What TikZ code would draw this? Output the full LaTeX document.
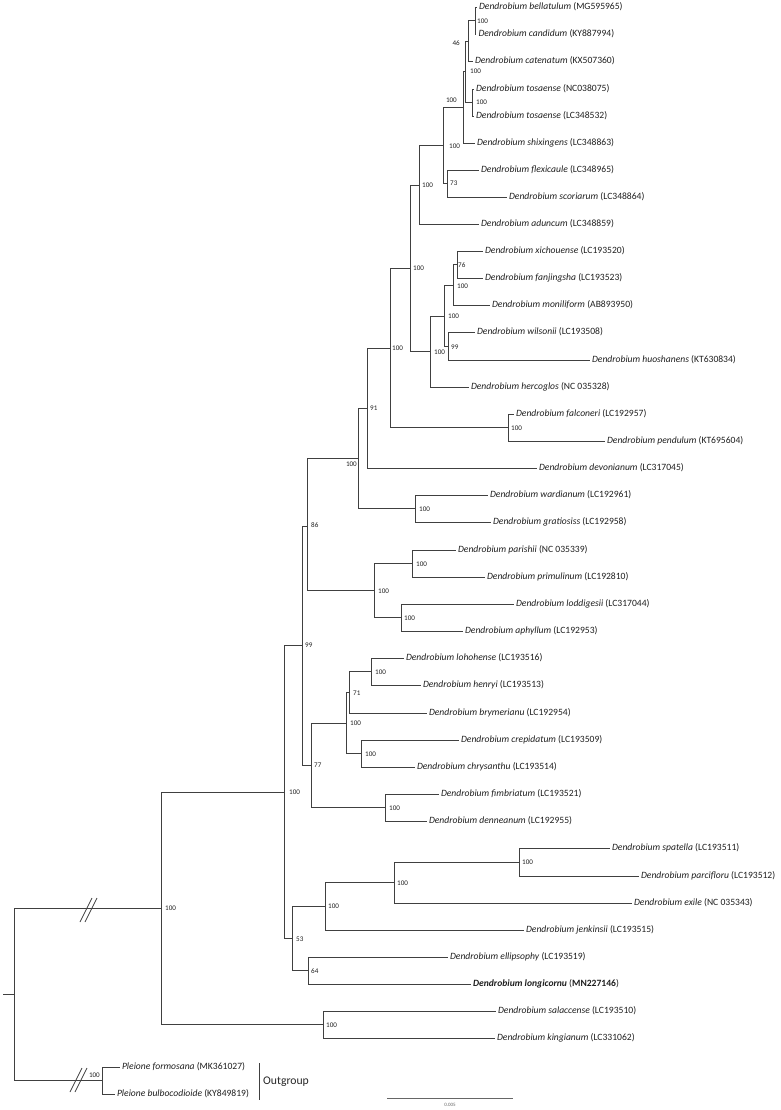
\documentclass[tikz,border=0pt]{standalone}
\usepackage{fontspec}
\setmainfont{Carlito}
\begin{document}
\begin{tikzpicture}[x=1pt,y=-1pt,
  branch/.style={line width=0.8pt, draw=black!75},
  leaf/.style={anchor=west, inner sep=0pt, outer xsep=2.5pt, font=\fontsize{9.6}{10}\selectfont, text height=6.6pt, text depth=2.2pt, text=black!88},
  supw/.style={anchor=west, inner sep=0pt, font=\fontsize{7.1}{7.5}\selectfont, text=black!88},
  supe/.style={anchor=east, inner sep=0pt, font=\fontsize{7.1}{7.5}\selectfont, text=black!88}]
\useasboundingbox (0,0) rectangle (780,1110);
% leaves (position = text start - 2.5)
\node[leaf] (l1) at (476.5,7) {\textit{Dendrobium bellatulum} (MG595965)};
\node[leaf] (l2) at (476,34) {\textit{Dendrobium candidum} (KY887994)};
\node[leaf] (l3) at (472.5,61) {\textit{Dendrobium catenatum} (KX507360)};
\node[leaf] (l4) at (473.5,89) {\textit{Dendrobium tosaense} (NC038075)};
\node[leaf] (l5) at (473.5,116) {\textit{Dendrobium tosaense} (LC348532)};
\node[leaf] (l6) at (474.5,143) {\textit{Dendrobium shixingens} (LC348863)};
\node[leaf] (l7) at (478.5,170) {\textit{Dendrobium flexicaule} (LC348965)};
\node[leaf] (l8) at (506.5,197) {\textit{Dendrobium scoriarum} (LC348864)};
\node[leaf] (l9) at (478.5,224) {\textit{Dendrobium aduncum} (LC348859)};
\node[leaf] (l10) at (482.5,251) {\textit{Dendrobium xichouense} (LC193520)};
\node[leaf] (l11) at (482.5,278) {\textit{Dendrobium fanjingsha} (LC193523)};
\node[leaf] (l12) at (489.5,305) {\textit{Dendrobium moniliform} (AB893950)};
\node[leaf] (l13) at (474.5,332) {\textit{Dendrobium wilsonii} (LC193508)};
\node[leaf] (l14) at (589.5,360) {\textit{Dendrobium huoshanens} (KT630834)};
\node[leaf] (l15) at (468.5,387) {\textit{Dendrobium hercoglos} (NC 035328)};
\node[leaf] (l16) at (513.5,414) {\textit{Dendrobium falconeri} (LC192957)};
\node[leaf] (l17) at (604.5,441) {\textit{Dendrobium pendulum} (KT695604)};
\node[leaf] (l18) at (536.5,468) {\textit{Dendrobium devonianum} (LC317045)};
\node[leaf] (l19) at (487.5,495) {\textit{Dendrobium wardianum} (LC192961)};
\node[leaf] (l20) at (490.5,522) {\textit{Dendrobium gratiosiss} (LC192958)};
\node[leaf] (l21) at (455.5,550) {\textit{Dendrobium parishii} (NC 035339)};
\node[leaf] (l22) at (484.5,577) {\textit{Dendrobium primulinum} (LC192810)};
\node[leaf] (l23) at (513.5,604) {\textit{Dendrobium loddigesii} (LC317044)};
\node[leaf] (l24) at (462.5,631) {\textit{Dendrobium aphyllum} (LC192953)};
\node[leaf] (l25) at (403.5,658) {\textit{Dendrobium lohohense} (LC193516)};
\node[leaf] (l26) at (420.5,685) {\textit{Dendrobium henryi} (LC193513)};
\node[leaf] (l27) at (426.5,713) {\textit{Dendrobium brymerianu} (LC192954)};
\node[leaf] (l28) at (458.5,740) {\textit{Dendrobium crepidatum} (LC193509)};
\node[leaf] (l29) at (414.5,767) {\textit{Dendrobium chrysanthu} (LC193514)};
\node[leaf] (l30) at (438.5,794) {\textit{Dendrobium fimbriatum} (LC193521)};
\node[leaf] (l31) at (426.5,821) {\textit{Dendrobium denneanum} (LC192955)};
\node[leaf] (l32) at (609.5,848) {\textit{Dendrobium spatella} (LC193511)};
\node[leaf] (l33) at (638.5,876) {\textit{Dendrobium parcifloru} (LC193512)};
\node[leaf] (l34) at (631.5,903) {\textit{Dendrobium exile} (NC 035343)};
\node[leaf] (l35) at (523.5,930) {\textit{Dendrobium jenkinsii} (LC193515)};
\node[leaf] (l36) at (447.5,957) {\textit{Dendrobium ellipsophy} (LC193519)};
\node[leaf] (l37) at (470.5,984) {\textbf{\textit{Dendrobium longicornu}} (\textbf{MN227146})};
\node[leaf] (l38) at (495.5,1011) {\textit{Dendrobium salaccense} (LC193510)};
\node[leaf] (l39) at (494.5,1038) {\textit{Dendrobium kingianum} (LC331062)};
\node[leaf] (l40) at (119.5,1067) {\textit{Pleione formosana} (MK361027)};
\node[leaf] (l41) at (114.5,1094) {\textit{Pleione bulbocodioide} (KY849819)};
% internal nodes
\coordinate (bc) at (475,20.5);
\coordinate (n46) at (468,41);
\coordinate (tos) at (472,102.5);
\coordinate (M) at (465.5,71.5);
\coordinate (L) at (463,107.5);
\coordinate (K) at (447,183.5);
\coordinate (J) at (443,145.5);
\coordinate (I) at (419,185);
\coordinate (F) at (457,264.5);
\coordinate (E) at (453,285);
\coordinate (G) at (448,346);
\coordinate (D) at (444,316);
\coordinate (C) at (430,351.5);
\coordinate (A) at (410,268.5);
\coordinate (fp) at (508,427.5);
\coordinate (B) at (390,348);
\coordinate (n91) at (367,408);
\coordinate (wg) at (415,508.5);
\coordinate (H) at (358,458.5);
\coordinate (pp) at (412,563.5);
\coordinate (la) at (401,617.5);
\coordinate (pl) at (374,590.5);
\coordinate (n86) at (307,526);
\coordinate (lh) at (371,671.5);
\coordinate (n71) at (349,692);
\coordinate (cc) at (361,753.5);
\coordinate (Q) at (346,723);
\coordinate (fd) at (385,807.5);
\coordinate (n77) at (311,765);
\coordinate (n99) at (302,645.5);
\coordinate (sp) at (519,862);
\coordinate (se) at (394,882.5);
\coordinate (sj) at (325,906);
\coordinate (n64) at (308,970.5);
\coordinate (n53) at (292,938);
\coordinate (R) at (284,792);
\coordinate (sk) at (323,1024.5);
\coordinate (Den) at (161,908);
\coordinate (Ple) at (102,1080.5);
\coordinate (root) at (14,994);
\coordinate (stub) at (3,994);
% leaf edges
\foreach \p/\c in {bc/l1,bc/l2,n46/l3,tos/l4,tos/l5,L/l6,K/l7,K/l8,I/l9,F/l10,F/l11,E/l12,G/l13,G/l14,C/l15,fp/l16,fp/l17,n91/l18,wg/l19,wg/l20,pp/l21,pp/l22,la/l23,la/l24,lh/l25,lh/l26,n71/l27,cc/l28,cc/l29,fd/l30,fd/l31,sp/l32,sp/l33,se/l34,sj/l35,n64/l36,n64/l37,sk/l38,sk/l39,Ple/l40,Ple/l41}
  \draw[branch] (\p) |- (\c.west);
% internal edges
\foreach \p/\c in {n46/bc,M/n46,M/tos,L/M,J/L,J/K,I/J,E/F,D/E,D/G,C/D,A/I,A/C,B/A,B/fp,n91/B,H/n91,H/wg,pl/pp,pl/la,n86/H,n86/pl,n71/lh,Q/n71,Q/cc,n77/Q,n77/fd,n99/n86,n99/n77,se/sp,sj/se,n53/sj,n53/n64,R/n99,R/n53,Den/R,Den/sk,root/Den,root/Ple}
  \draw[branch] (\p) |- (\c);
\draw[branch] (stub) -- (root);
% break marks
\draw[branch] (80,922) -- (92,898) (85,922) -- (97,898);
\draw[branch] (70,1092) -- (82,1068) (75,1092) -- (87,1068);
% support values
\node[supw] (s1) at (477,21) {100};
\node[supe] (s2) at (460,43) {46};
\node[supw] (s3) at (476,102) {100};
\node[supw] (s4) at (470,71) {100};
\node[supe] (s5) at (457,100) {100};
\node[supw] (s6) at (449,146) {100};
\node[supw] (s7) at (450,183) {73};
\node[supw] (s8) at (422,185) {100};
\node[supw] (s9) at (413,268) {100};
\node[supw] (s10) at (458,265) {76};
\node[supw] (s11) at (457,286) {100};
\node[supw] (s12) at (448,316) {100};
\node[supw] (s13) at (451,347) {99};
\node[supw] (s14) at (434,352) {100};
\node[supw] (s15) at (392,348) {100};
\node[supw] (s16) at (511,428) {100};
\node[supw] (s17) at (370,408) {91};
\node[supw] (s18) at (419,509) {100};
\node[supe] (s19) at (357,464) {100};
\node[supw] (s20) at (311,525) {86};
\node[supw] (s21) at (416,564) {100};
\node[supw] (s22) at (404,618) {100};
\node[supw] (s23) at (378,591) {100};
\node[supw] (s24) at (305,645) {99};
\node[supw] (s25) at (375,672) {100};
\node[supw] (s26) at (353,693) {71};
\node[supw] (s27) at (365,754) {100};
\node[supw] (s28) at (350,723) {100};
\node[supw] (s29) at (389,808) {100};
\node[supw] (s30) at (314,765) {77};
\node[supw] (s31) at (289,792) {100};
\node[supw] (s32) at (522,862) {100};
\node[supw] (s33) at (397,883) {100};
\node[supw] (s34) at (328,906) {100};
\node[supw] (s35) at (311,971) {64};
\node[supw] (s36) at (296,939) {53};
\node[supw] (s37) at (326,1025) {100};
\node[supw] (s38) at (165,908) {100};
\node[supe] (s39) at (100,1075) {100};
% outgroup bracket
\draw[branch] (259,1063) -- (259,1100);
\node[anchor=west, inner sep=0pt, font=\fontsize{11.7}{12}\selectfont, text=black!85] (og) at (263,1082) {Outgroup};
% scale bar
\draw[line width=0.7pt, draw=black!60] (387,1098) -- (513,1098);
\node[inner sep=0pt, font=\fontsize{5}{6}\selectfont, text=black!60] (sc) at (450,1105) {0.005};
\end{tikzpicture}
\end{document}
